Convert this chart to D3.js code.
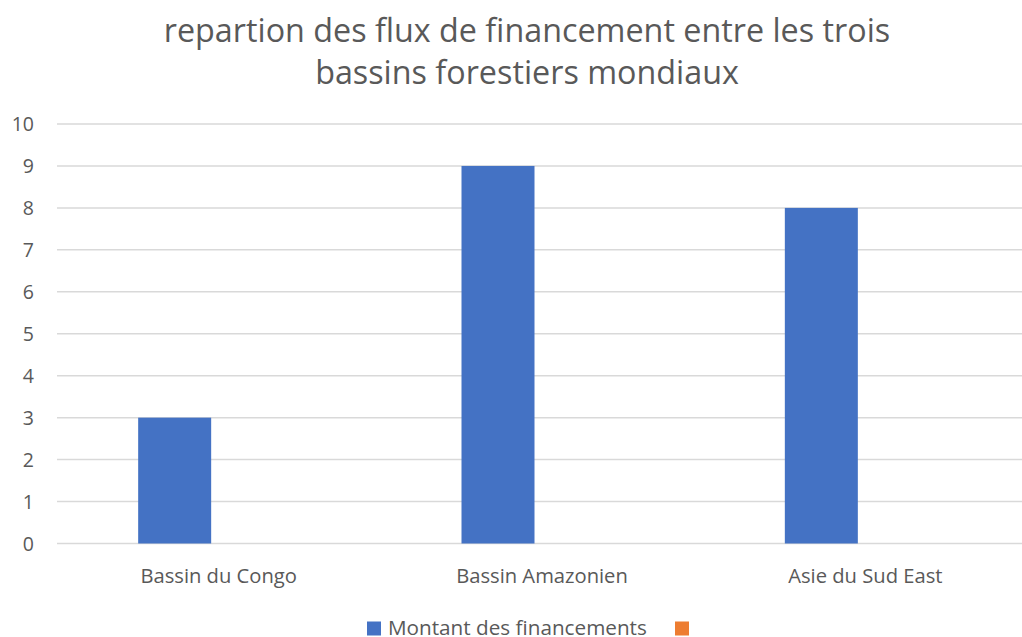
<!DOCTYPE html>
<html>
<head>
<meta charset="utf-8">
<script src="https://cdn.jsdelivr.net/npm/d3@7"></script>
<style>
  html, body { margin: 0; padding: 0; background: #fff; }
  svg { display: block; font-family: "Open Sans", "Liberation Sans", sans-serif; }
</style>
</head>
<body>
<svg id="chart" width="1022" height="637"></svg>
<script>
const titleLines = ["repartion des flux de financement entre les trois", "bassins forestiers mondiaux"];
const categories = ["Bassin du Congo", "Bassin Amazonien", "Asie du Sud East"];
const seriesNames = ["Montant des financements", ""];
const seriesColors = ["#4472C4", "#ED7D31"];
const montant = [3, 9, 8];
const second = [0, 0, 0];
const yTicks = [0, 1, 2, 3, 4, 5, 6, 7, 8, 9, 10];

const svg = d3.select("#chart");
const W = 1022, H = 637;
const textColor = "#595959";

const x0 = d3.scaleBand().domain(categories).range([57, 1027]).padding(0);
const y = d3.scaleLinear().domain([0, 10]).range([543.5, 124]);
const x1 = d3.scaleBand().domain(seriesNames.map((d, i) => i)).range([-80.5, 65.5]).padding(0);

// Title
svg.append("g").selectAll("text").data(titleLines).join("text")
  .attr("x", 527).attr("y", (d, i) => 42 + i * 42)
  .attr("text-anchor", "middle")
  .attr("font-size", 32.3)
  .attr("fill", textColor)
  .text(d => d);

// Gridlines
svg.append("g").selectAll("line").data(yTicks).join("line")
  .attr("x1", 57).attr("x2", W)
  .attr("y1", d => y(d)).attr("y2", d => y(d))
  .attr("stroke", "#D9D9D9").attr("stroke-width", 1.5);

// Y tick labels
svg.append("g").selectAll("text").data(yTicks).join("text")
  .attr("x", 34).attr("y", d => y(d))
  .attr("dy", "0.36em")
  .attr("text-anchor", "end")
  .attr("font-size", 19.5)
  .attr("fill", textColor)
  .text(d => d);

// Bars
const seriesData = [montant, second];
const groups = svg.append("g").selectAll("g").data(categories).join("g")
  .attr("transform", d => `translate(${x0(d) + x0.bandwidth() / 2},0)`);
groups.selectAll("rect")
  .data((c, ci) => seriesData.map((s, si) => ({ si, v: s[ci] })))
  .join("rect")
  .attr("x", d => x1(d.si))
  .attr("width", x1.bandwidth())
  .attr("y", d => y(d.v))
  .attr("height", d => y(0) - y(d.v))
  .attr("fill", d => seriesColors[d.si]);

// Category labels
svg.append("g").selectAll("text").data(categories).join("text")
  .attr("x", d => x0(d) + x0.bandwidth() / 2)
  .attr("y", 582.5)
  .attr("text-anchor", "middle")
  .attr("font-size", 20.2)
  .attr("fill", textColor)
  .text(d => d);

// Legend
const legend = svg.append("g");
const legendX = [367, 675];
seriesNames.forEach((name, i) => {
  legend.append("rect")
    .attr("x", legendX[i]).attr("y", 621.5)
    .attr("width", 14).attr("height", 14)
    .attr("fill", seriesColors[i]);
  if (name) {
    legend.append("text")
      .attr("x", legendX[i] + 21).attr("y", 635)
      .attr("font-size", 20.7)
      .attr("fill", textColor)
      .text(name);
  }
});
</script>
</body>
</html>
